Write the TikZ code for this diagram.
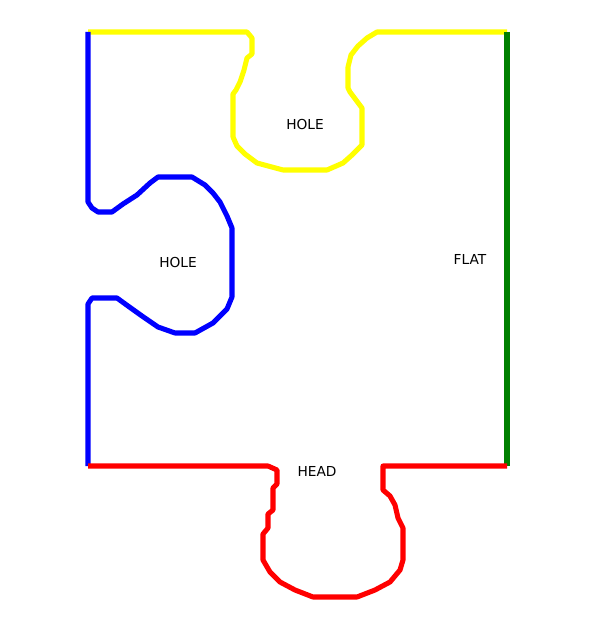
\documentclass[tikz,border=0pt]{standalone}
\usepackage{fontspec}
\setmainfont{DejaVu Sans}
\definecolor{pyellow}{RGB}{255,255,0}
\definecolor{pblue}{RGB}{0,0,255}
\definecolor{pred}{RGB}{255,0,0}
\definecolor{pgreen}{RGB}{0,128,0}
\begin{document}
\begin{tikzpicture}[x=0.75pt,y=-0.75pt,
  edge/.style={line width=3.8pt,line join=round},
  lbl/.style={font=\fontsize{10.3}{12}\selectfont,text=black,inner sep=0pt}]
\useasboundingbox (0,0) rectangle (595,630);
\coordinate (tl) at (88,32);
\coordinate (tr) at (507,32);
\coordinate (bl) at (88,466);
\coordinate (br) at (507,466);
% top edge (yellow)
\draw[edge,pyellow] (tl) -- (247,32) -- (252,38) -- (252,54) -- (247,58) -- (244,70) -- (240,82) -- (236,90) -- (233,94)
  -- (233,137) -- (237,146) -- (245,154) -- (257,163) -- (283,170) -- (327,170) -- (343,163) -- (352,155) -- (362,145)
  -- (362,108) -- (356,100) -- (350,92) -- (348,88) -- (348,67) -- (351,55) -- (358,46) -- (367,38) -- (377,32) -- (tr);
% right edge (green)
\draw[edge,pgreen] (tr) -- (br);
% left edge (blue)
\draw[edge,pblue] (tl) -- (88,202) -- (92,208) -- (98,212) -- (112,212) -- (123,204) -- (137,195) -- (150,183) -- (158,177)
  -- (192,177) -- (205,185) -- (213,193) -- (220,202) -- (227,216) -- (232,228) -- (232,297) -- (227,309)
  -- (213,323) -- (195,333) -- (175,333) -- (158,327) -- (142,316) -- (128,306) -- (117,298) -- (92,298) -- (88,304) -- (bl);
% bottom edge (red)
\draw[edge,pred] (bl) -- (268,466) -- (277,470) -- (277,484) -- (273,488) -- (273,510) -- (268,514) -- (268,528) -- (263,534)
  -- (263,560) -- (270,572) -- (280,582) -- (295,590) -- (313,597) -- (357,597) -- (375,590) -- (390,582) -- (400,570)
  -- (403,560) -- (403,528) -- (398,518) -- (395,505) -- (390,496) -- (383,490) -- (383,466) -- (br);
% labels
\node[lbl] (h1) at (305,125) {HOLE};
\node[lbl] (h2) at (178,263) {HOLE};
\node[lbl] (fl) at (470,259) {FLAT};
\node[lbl] (hd) at (317,471) {HEAD};
\end{tikzpicture}
\end{document}
